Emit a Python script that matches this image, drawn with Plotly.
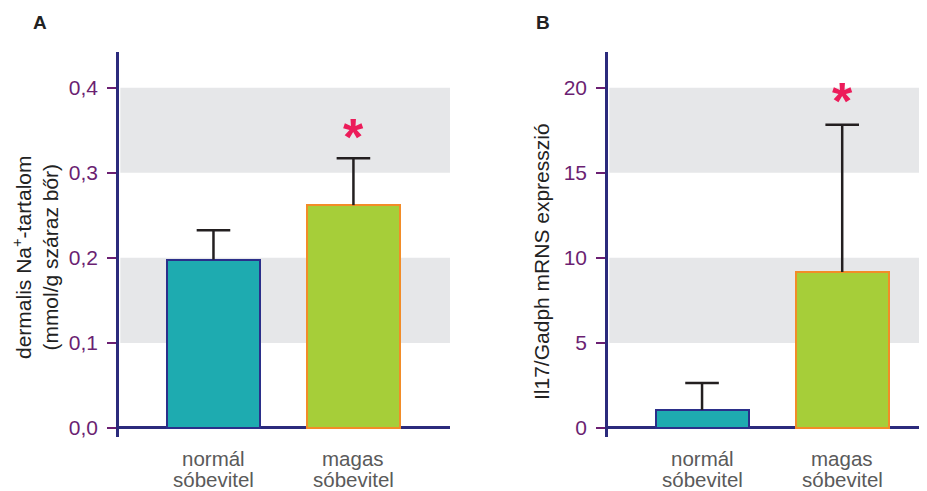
import plotly.graph_objects as go

categories = ["normál<br>sóbevitel", "magas<br>sóbevitel"]
na_values = [0.198, 0.262]
na_errors = [0.0345, 0.055]
il17_values = [1.06, 9.17]
il17_errors = [1.58, 8.66]
na_ticks = [0.0, 0.1, 0.2, 0.3, 0.4]
na_ticktext = ["0,0", "0,1", "0,2", "0,3", "0,4"]
il17_ticks = [0, 5, 10, 15, 20]
il17_ticktext = ["0", "5", "10", "15", "20"]
na_star = 0.349
il17_star = 19.6

FONT = "Liberation Sans, Arial, sans-serif"
PURPLE = "#6b1f72"
NAVY = "#2b2a7c"
GREY_TXT = "#5a5a5a"
BAND = "#e6e7e9"
ERR = "#231f20"
STAR = "#ec1c5a"
fill_colors = ["#1eabb0", "#a6ce39"]
line_colors = ["#2b2f8a", "#f28c28"]
xpos = [0, 1]

# the page body has an 8px default margin; the figure is sized to fit the window
OFF = 8
W, H = 927 - OFF, 491 - OFF
def fx(px):
    return (px - OFF) / W
def fy(py):
    return 1 - (py - OFF) / H

fig = go.Figure()

for vals, errs, xa, ya in ((na_values, na_errors, "x", "y"),
                           (il17_values, il17_errors, "x2", "y2")):
    fig.add_trace(go.Bar(
        x=xpos, y=vals, width=0.664,
        marker=dict(color=fill_colors, line=dict(color=line_colors, width=2)),
        error_y=dict(type="data", symmetric=False, array=errs, arrayminus=[0, 0],
                     color=ERR, thickness=2.5, width=0),
        xaxis=xa, yaxis=ya, showlegend=False, hoverinfo="skip"))
    tops = [v + e for v, e in zip(vals, errs)]
    fig.add_trace(go.Scatter(
        x=xpos, y=tops, mode="markers",
        marker=dict(symbol="line-ew-open", size=24, color=ERR,
                    line=dict(color=ERR, width=2.5)),
        xaxis=xa, yaxis=ya, showlegend=False, hoverinfo="skip", cliponaxis=False))

ydom = [fy(437), fy(52)]

common_y = dict(showgrid=False, showline=True, linecolor=NAVY, linewidth=2.5,
                ticks="outside", ticklen=9, tickwidth=2, tickcolor=PURPLE,
                ticklabelstandoff=5,
                tickfont=dict(family=FONT, size=21, color=PURPLE), automargin=False,
                zeroline=True, zerolinecolor=NAVY, zerolinewidth=2.5)
common_x = dict(showgrid=False, showline=False, zeroline=False, ticks="",
                showticklabels=False, automargin=False)

fig.update_layout(
    width=W, height=H, margin=dict(l=0, r=0, t=0, b=0, autoexpand=False),
    plot_bgcolor="white", paper_bgcolor="white",
    bargap=0,
    xaxis=dict(domain=[fx(119), fx(450)], range=[-0.675, 1.69], anchor="y", **common_x),
    yaxis=dict(domain=ydom, range=[-0.0106, 0.442], anchor="x",
               tickmode="array", tickvals=na_ticks, ticktext=na_ticktext, **common_y),
    xaxis2=dict(domain=[fx(608), 1.0], range=[-0.671, 1.605], anchor="y2", **common_x),
    yaxis2=dict(domain=ydom, range=[-0.53, 22.1], anchor="x2",
                tickmode="array", tickvals=il17_ticks, ticktext=il17_ticktext, **common_y),
)

shapes = []
for ref, bands in (("", [(0.1, 0.2), (0.3, 0.4)]), ("2", [(5, 10), (15, 20)])):
    for y0, y1 in bands:
        shapes.append(dict(type="rect", xref=f"x{ref} domain", yref=f"y{ref}",
                           x0=0.004, x1=1, y0=y0, y1=y1, fillcolor=BAND,
                           line=dict(width=0), layer="below"))
fig.update_layout(shapes=shapes)

annotations = []
for xr, yr in (("x", "y domain"), ("x2", "y2 domain")):
    for i, cat in enumerate(categories):
        for j, line in enumerate(cat.split("<br>")):
            annotations.append(dict(
                text=line, x=xpos[i], y=0, xref=xr, yref=yr, showarrow=False,
                xanchor="center", yanchor="middle", yshift=-21 - 21 * j,
                font=dict(family=FONT, size=20.5, color=GREY_TXT)))

annotations += [
    dict(text="<b>*</b>", x=1, y=na_star, xref="x", yref="y", showarrow=False,
         xanchor="center", yanchor="middle",
         font=dict(family=FONT, size=52, color=STAR), yshift=-6),
    dict(text="<b>*</b>", x=1, y=il17_star, xref="x2", yref="y2", showarrow=False,
         xanchor="center", yanchor="middle",
         font=dict(family=FONT, size=52, color=STAR), yshift=-6),
    dict(text="<b>A</b>", x=fx(40), y=fy(22), xref="paper", yref="paper",
         xanchor="center", yanchor="middle",
         showarrow=False, font=dict(family=FONT, size=19, color="#222")),
    dict(text="<b>B</b>", x=fx(543), y=fy(22), xref="paper", yref="paper",
         xanchor="center", yanchor="middle",
         showarrow=False, font=dict(family=FONT, size=19, color="#222")),
    dict(text="dermalis Na<sup>+</sup>-tartalom<br>(mmol/g száraz bőr)",
         x=fx(35), y=fy(258), xref="paper", yref="paper", textangle=-90,
         xanchor="center", yanchor="middle",
         showarrow=False, font=dict(family=FONT, size=21, color="#222")),
    dict(text="Il17/Gadph mRNS expresszió",
         x=fx(542), y=fy(262), xref="paper", yref="paper", textangle=-90,
         xanchor="center", yanchor="middle",
         showarrow=False, font=dict(family=FONT, size=21, color="#222")),
]
fig.update_layout(annotations=annotations)

fig.write_html("out.html")
